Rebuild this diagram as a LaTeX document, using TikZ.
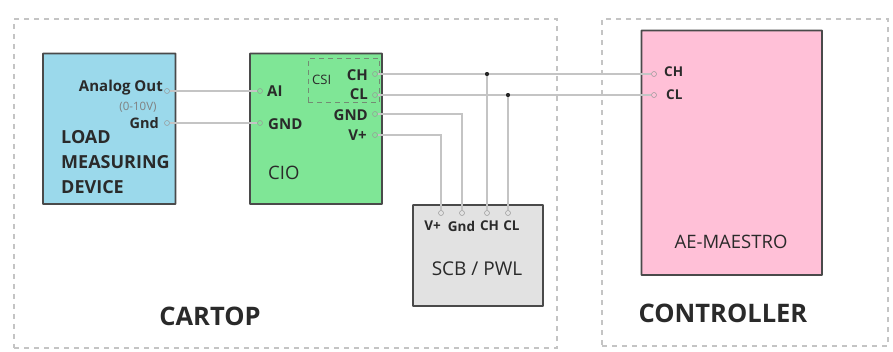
\documentclass[tikz,border=0pt]{standalone}
\usepackage{fontspec}
\setmainfont{Open Sans}
\definecolor{wirec}{HTML}{C4C4C4}
\definecolor{edgec}{HTML}{4A4A4A}
\definecolor{txtc}{HTML}{2A2A2A}
\newcommand{\fsz}[1]{\fontsize{#1}{#1}\selectfont}
\tikzset{
  x=1pt,y=-1pt,
  block/.style={draw=edgec,line width=1.8pt,rounded corners=0.5pt,inner sep=0pt,outer sep=0pt,anchor=north west},
  groupbox/.style={draw=wirec,line width=1.2pt,dash pattern=on 5pt off 5pt,inner sep=0pt,outer sep=0pt,anchor=north west},
  wire/.style={draw=wirec,line width=1.6pt},
  port/.style={circle,draw=gray!80,line width=0.5pt,inner sep=0pt,minimum size=5pt},
  joint/.style={circle,fill=black!85,inner sep=0pt,minimum size=4pt},
  lbl/.style={font=\bfseries\fsz{15},text=txtc,inner sep=0pt},
  smalllbl/.style={font=\bfseries\fsz{13.5},text=txtc,inner sep=0pt},
  plain/.style={text=txtc,inner sep=0pt},
  title/.style={font=\bfseries\fsz{25.5},text=txtc,inner sep=0pt},
}
\begin{document}
\begin{tikzpicture}
\useasboundingbox (0,0) rectangle (893,351);
\fill[white] (0,0) rectangle (893,351);
% group frames
\node[groupbox,minimum width=543pt,minimum height=329pt] (cartop) at (14,19) {};
\node[groupbox,minimum width=286pt,minimum height=327pt] (controller) at (602,19) {};
% blocks
\node[block,fill={rgb,255:red,155;green,217;blue,235},minimum width=132.5pt,minimum height=150.5pt] (load) at (43,53.5) {};
\node[block,fill={rgb,255:red,127;green,230;blue,150},minimum width=132pt,minimum height=150.5pt] (cio) at (250,53.5) {};
\node[block,fill={rgb,255:red,226;green,226;blue,226},minimum width=130pt,minimum height=101pt] (scb) at (413,205) {};
\node[block,fill={rgb,255:red,255;green,192;blue,215},minimum width=180.5pt,minimum height=244.5pt] (ae) at (641.5,30.5) {};
% CSI dashed box
\node[draw=gray!90!green,line width=1pt,dash pattern=on 5pt off 4pt,inner sep=0pt,outer sep=0pt,minimum width=71pt,minimum height=44.5pt,anchor=north west] (csi) at (308,58) {};
% ports
\node[port] (pao) at (167,91) {};
\node[port] (pgn) at (167,123) {};
\node[port] (pai) at (260,91) {};
\node[port] (pgi) at (260,123) {};
\node[port] (cch) at (375,74) {};
\node[port] (ccl) at (375,95) {};
\node[port] (cgn) at (375,114) {};
\node[port] (cvp) at (375,135) {};
\node[port] (svp) at (441,213) {};
\node[port] (sgn) at (462,213) {};
\node[port] (sch) at (487,213) {};
\node[port] (scl) at (508,213) {};
\node[port] (ach) at (654,74) {};
\node[port] (acl) at (654,95) {};
\node[joint] (jh) at (487,74) {};
\node[joint] (jl) at (508,95) {};
% wires
\draw[wire] (pao) -- (pai);
\draw[wire] (pgn) -- (pgi);
\draw[wire] (cch) -- (jh) -- (ach);
\draw[wire] (ccl) -- (jl) -- (acl);
\draw[wire] (cgn) -| (sgn);
\draw[wire] (cvp) -| (svp);
\draw[wire] (jh) -- (sch);
\draw[wire] (jl) -- (scl);
\node[joint] at (jh) {};
\node[joint] at (jl) {};
% labels
\node[font=\bfseries\fsz{15},text=txtc,inner sep=0pt,anchor=east] (tao) at (163,88) {Analog Out};
\node[font=\fsz{11.5},text=gray,inner sep=0pt] (tv) at (138,107) {(0-10V)};
\node[font=\bfseries\fsz{14.5},text=txtc,inner sep=0pt,anchor=east] (tgn) at (159,123) {Gnd};
\node[plain,anchor=north west,align=left,text width=115pt,font=\bfseries\fontsize{18}{25.2}\selectfont] (tl) at (61,130) {LOAD\\MEASURING\\DEVICE};
\node[lbl,anchor=west] (tai) at (267,91) {AI};
\node[lbl,anchor=west] (tgi) at (268,124) {GND};
\node[plain,font=\fsz{18.5},anchor=west] (tcio) at (268,173) {CIO};
\node[plain,font=\fsz{13},anchor=west] (tcsi) at (312,80) {CSI};
\node[lbl,anchor=east] (tch) at (368,75) {CH};
\node[lbl,anchor=east] (tcl) at (368,94) {CL};
\node[lbl,anchor=east] (tgn2) at (368,115) {GND};
\node[lbl,anchor=east] (tvp) at (367,135) {V+};
\node[smalllbl] (t1) at (432.5,226) {V+};
\node[smalllbl] (t2) at (461.5,226) {Gnd};
\node[smalllbl] (t3) at (489.5,226) {CH};
\node[smalllbl] (t4) at (511.5,226) {CL};
\node[plain,font=\fsz{19}] (tscb) at (477,269) {SCB / PWL};
\node[smalllbl,anchor=west] (tach) at (664,72) {CH};
\node[smalllbl,anchor=west] (tacl) at (666,95) {CL};
\node[plain,font=\fsz{18.5}] (tae) at (731,242) {AE-MAESTRO};
\node[title] (tcart) at (210,316) {CARTOP};
\node[title] (tctrl) at (723,313) {CONTROLLER};
\end{tikzpicture}
\end{document}
